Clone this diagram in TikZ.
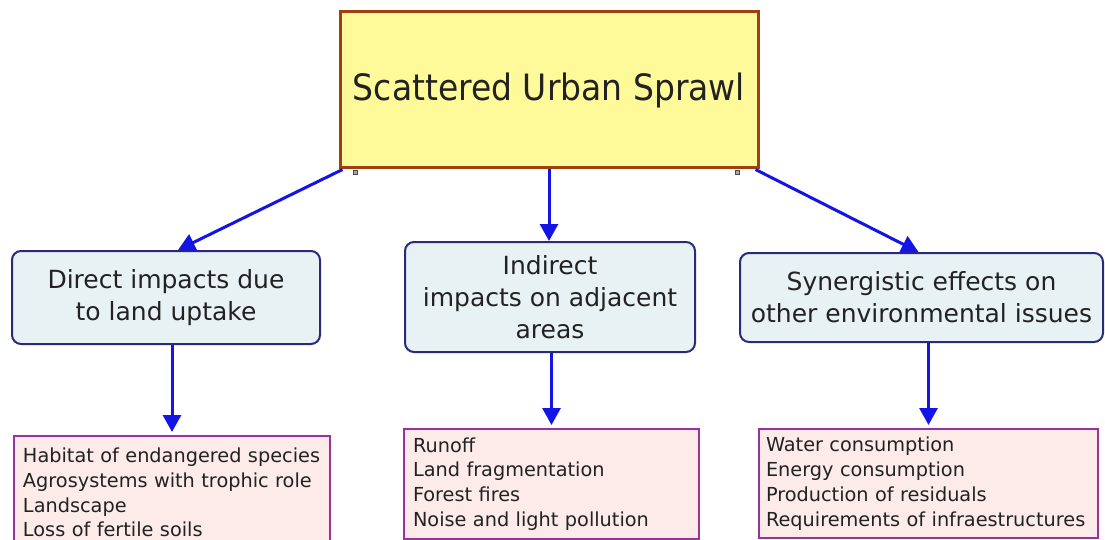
\documentclass[tikz,border=0pt]{standalone}
\usepackage{fontspec}
\setmainfont{DejaVu Sans}
\usetikzlibrary{arrows.meta}

\definecolor{titlefill}{RGB}{255,250,153}
\definecolor{titleline}{RGB}{160,64,16}
\definecolor{midfill}{RGB}{232,241,243}
\definecolor{midline}{RGB}{42,42,122}
\definecolor{listfill}{RGB}{252,235,233}
\definecolor{listline}{RGB}{153,51,153}
\definecolor{arrowblue}{RGB}{20,20,230}
\definecolor{ink}{RGB}{34,34,34}

\tikzset{
  titlebox/.style={draw=titleline, line width=3pt, fill=titlefill, text=ink,
    minimum width=418pt, minimum height=156pt, inner sep=0pt,
    font=\fontsize{33}{40}\selectfont},
  impactbox/.style={draw=midline, line width=2pt, fill=midfill, text=ink,
    rounded corners=9pt, inner sep=0pt, align=center,
    font=\fontsize{25}{32}\selectfont},
  listbox/.style={draw=listline, line width=2pt, fill=listfill, text=ink,
    inner ysep=0pt, align=left,
    font=\fontsize{19.3}{24.8}\selectfont},
  handle/.style={draw=black!70, fill=black!35, line width=0.8pt,
    minimum size=4pt, inner sep=0pt},
  flow/.style={draw=arrowblue, line width=3pt,
    -{Triangle[length=17pt,width=18pt]}},
}

\begin{document}
\begin{tikzpicture}[x=1pt,y=-1pt]
  \useasboundingbox (0,0) rectangle (1105,540);

  % top box
  \node[titlebox] (sprawl) at (549,90) {\scalebox{1}[1.1]{Scattered Urban Sprawl}};
  \node[handle] (hl) at (355,172) {};
  \node[handle] (hr) at (737,172) {};

  % three kinds of impact
  \node[impactbox, minimum width=308pt, minimum height=93pt] (direct) at (166,297.5)
    {Direct impacts due\\to land uptake};
  \node[impactbox, minimum width=290pt, minimum height=110pt] (indirect) at (550,297)
    {Indirect\\impacts on adjacent\\areas};
  \node[impactbox, minimum width=363pt, minimum height=89pt] (synergy) at (921.5,297.5)
    {Synergistic effects on\\other environmental issues};

  % lists of effects
  \node[listbox, inner xsep=9pt, text width=298pt, minimum height=113pt, anchor=north west]
    (directlist) at (13,435)
    {Habitat of endangered species\\Agrosystems with trophic role\\Landscape\\Loss of fertile soils};
  \node[listbox, inner xsep=9pt, text width=277pt, minimum height=110pt, anchor=north west]
    (indirectlist) at (403,428)
    {Runoff\\Land fragmentation\\Forest fires\\Noise and light pollution};
  \node[listbox, inner xsep=7pt, text width=325pt, minimum height=109pt, anchor=north west]
    (synergylist) at (758,428)
    {Water consumption\\Energy consumption\\Production of residuals\\Requirements of infraestructures};

  % connectors
  \draw[flow] ([xshift=4pt]sprawl.south west) -- ([xshift=12pt]direct.north);
  \draw[flow] (sprawl.south) -- (sprawl.south |- indirect.north);
  \draw[flow] ([xshift=-4pt]sprawl.south east) -- ([xshift=-3pt]synergy.north);

  \draw[flow, shorten >=3pt] (directlist.north |- direct.south) -- (directlist.north);
  \draw[flow, shorten >=3pt] (indirectlist.north |- indirect.south) -- (indirectlist.north);
  \draw[flow, shorten >=3pt] (synergylist.north |- synergy.south) -- (synergylist.north);
\end{tikzpicture}
\end{document}
